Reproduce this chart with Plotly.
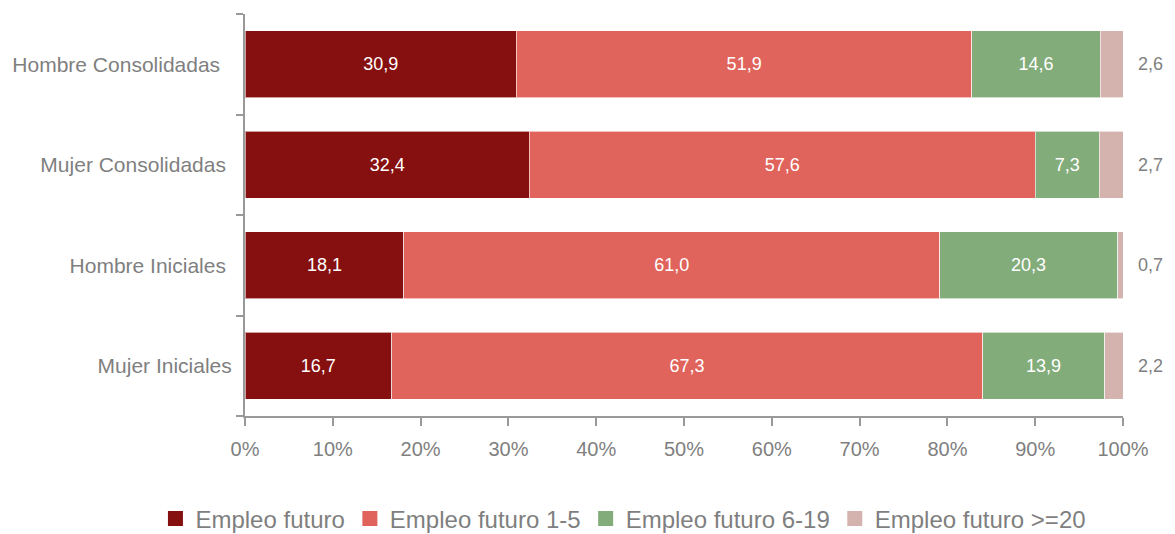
import plotly.graph_objects as go

categories = ["Hombre Consolidadas", "Mujer Consolidadas", "Hombre Iniciales", "Mujer Iniciales"]
tick_labels = ["Hombre Consolidadas\u00a0\u00a0", "Mujer Consolidadas\u00a0", "Hombre Iniciales\u00a0", "Mujer Iniciales"]
series_names = ["Empleo futuro", "Empleo futuro 1-5", "Empleo futuro 6-19", "Empleo futuro >=20"]
empleo_futuro = [30.9, 32.4, 18.1, 16.7]
empleo_1_5 = [51.9, 57.6, 61.0, 67.3]
empleo_6_19 = [14.6, 7.3, 20.3, 13.9]
empleo_20 = [2.6, 2.7, 0.7, 2.2]
x_ticks = [0, 10, 20, 30, 40, 50, 60, 70, 80, 90, 100]

colors = ["#861010", "#E0645C", "#83AC7B", "#D4B2AD"]
series = [empleo_futuro, empleo_1_5, empleo_6_19, empleo_20]
FONT = "Liberation Sans, Arial, sans-serif"
GRAY = "#7f7f7f"

fig = go.Figure()
for i, (name, vals, col) in enumerate(zip(series_names, series, colors)):
    inside = i < 3
    fig.add_trace(go.Bar(
        y=categories, x=vals, orientation="h", name=name,
        marker=dict(color=col, line=dict(color="rgba(255,255,255,0.6)", width=1)),
        width=0.67,
        text=[f"{v:.1f}".replace(".", ",") for v in vals] if inside else None,
        textposition="inside" if inside else "none",
        insidetextanchor="middle",
        textfont=dict(color="white", size=18, family=FONT),
        showlegend=False,
        hoverinfo="x+y",
    ))
    fig.add_trace(go.Scatter(
        x=[None], y=[None], mode="markers", name=name,
        marker=dict(symbol="square", size=15, color=col),
        showlegend=True,
    ))

annotations = []
for c, e in zip(categories, empleo_20):
    annotations.append(dict(
        x=1, y=c, xref="x domain", yref="y",
        text=f"{e:.1f}".replace(".", ","), showarrow=False,
        xanchor="left", xshift=13,
        font=dict(size=18, color=GRAY, family=FONT),
    ))

fig.update_layout(
    width=1175, height=534,
    barmode="stack",
    paper_bgcolor="white", plot_bgcolor="white",
    margin=dict(l=245, r=52, t=14, b=118, autoexpand=False),
    font=dict(family=FONT, color=GRAY),
    showlegend=True,
    legend=dict(
        orientation="h", x=-0.102, xanchor="left",
        y=-0.256, yanchor="middle",
        font=dict(size=24, color=GRAY, family=FONT),
        itemclick=False, itemdoubleclick=False,
        traceorder="normal",
    ),
    annotations=annotations,
)
fig.update_xaxes(
    range=[0, 100], tickvals=x_ticks, ticktext=[f"{t}%" for t in x_ticks],
    showgrid=False, zeroline=False,
    showline=True, linecolor="#999999", linewidth=2,
    ticks="outside", ticklen=8, tickwidth=2, tickcolor="#999999",
    ticklabelstandoff=6,
    tickfont=dict(size=20, color=GRAY, family=FONT),
    fixedrange=True,
)
fig.update_yaxes(
    type="category", categoryorder="array", categoryarray=categories,
    tickvals=categories, ticktext=tick_labels,
    range=[3.5, -0.5],
    showgrid=False, zeroline=False,
    showline=True, linecolor="#999999", linewidth=2,
    ticks="outside", ticklen=7, tickwidth=2, tickcolor="#999999",
    tickson="boundaries",
    ticklabelstandoff=7,
    tickfont=dict(size=21, color=GRAY, family=FONT),
    fixedrange=True,
)

fig.write_html("out.html")
